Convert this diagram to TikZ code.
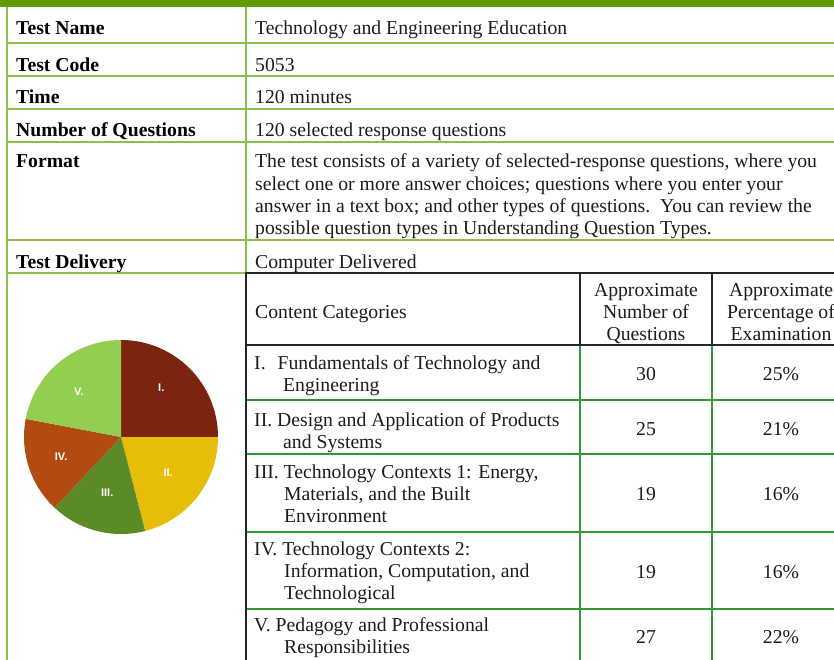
\documentclass[tikz,border=0pt]{standalone}
\usepackage{fontspec}
\setmainfont{Liberation Serif}
\newfontfamily\piesans{Liberation Sans}
\usetikzlibrary{positioning}

\definecolor{bargreen}{HTML}{5F9A00}
\definecolor{rulegreen}{HTML}{8CC04B}
\definecolor{gridgreen}{HTML}{2F9A35}
\definecolor{ink}{HTML}{1C1C1C}
\definecolor{catI}{HTML}{7B2410}
\definecolor{catII}{HTML}{E6BD09}
\definecolor{catIII}{HTML}{5A8B27}
\definecolor{catIV}{HTML}{B24A12}
\definecolor{catV}{HTML}{92CF51}

\begin{document}
\begin{tikzpicture}[x=1pt, y=-1pt,
    every node/.style={inner sep=0pt, text=ink, font=\fontsize{19.7}{22.3}\selectfont},
    head/.style={anchor=base west, text=black, font=\fontsize{19.7}{22.3}\selectfont\bfseries},
    cell/.style={anchor=base west, align=left},
    colhead/.style={anchor=base, align=center},
    num/.style={anchor=center},
    slice/.style={text=white, font=\piesans\bfseries\fontsize{11}{13}\selectfont},
    outer/.style={rulegreen, line width=2pt},
    grid/.style={gridgreen, line width=1.4pt},
    frame/.style={black!85, line width=1.6pt}]

  \useasboundingbox (0,0) rectangle (834,660);

  % top band and outer rules
  \fill[bargreen] (0,0) rectangle (834,7.5);
  \foreach \y in {42.7,76,109,141.7,240}
    \draw[outer] (7,\y) -- (834,\y);
  \draw[outer] (7,273) -- (246,273);
  \draw[outer] (7,7.5) -- (7,660);
  \draw[outer] (246,7.5) -- (246,273);

  % labels
  \node[head] (name)  at (16,35)    {Test Name};
  \node[head] (code)  at (16,71.5)  {Test Code};
  \node[head] (time)  at (16,104)   {Time};
  \node[head] (numq)  at (16,136.7) {Number of Questions};
  \node[head] (fmt)   at (16,168)   {Format};
  \node[head] (deliv) at (16,268)   {Test Delivery};

  % values (multi-line cells sit on their last baseline)
  \node[cell] (nameval)  at (255,35)    {Technology and Engineering Education};
  \node[cell] (codeval)  at (255,71.5)  {5053};
  \node[cell] (timeval)  at (255,104)   {120 minutes};
  \node[cell] (numqval)  at (255,136.7) {120 selected response questions};
  \node[cell] (fmtval)   at (255,234.9) {The test consists of a variety of selected-response questions, where you\\
    select one or more answer choices; questions where you enter your\\
    answer in a text box; and other types of questions.\ \ You can review the\\
    possible question types in Understanding Question Types.};
  \node[cell] (delivval) at (255,268)   {Computer Delivered};

  % content table
  \foreach \y in {400,454,532,609}
    \draw[grid] (246,\y) -- (834,\y);
  \foreach \x in {580,712}
    \draw[grid] (\x,345) -- (\x,660);
  \draw[frame] (834,273) -- (246,273) -- (246,660);
  \draw[frame] (246,345) -- (834,345);
  \foreach \x in {580,712}
    \draw[frame] (\x,273) -- (\x,345);

  \node[cell]    (cc)  at (255,318)   {Content Categories};
  \node[colhead] (anq) at (646,340.6) {Approximate\\Number of\\Questions};
  \node[colhead] (ape) at (781,340.6) {Approximate\\Percentage of\\Examination};

  \node[cell] (c1) at (254,391.3) {I.\hspace{12pt}Fundamentals of Technology and\\
    \hspace{29pt}Engineering};
  \node[cell] (c2) at (254,448.3) {II. Design and Application of Products\\
    \hspace{29pt}and Systems};
  \node[cell] (c3) at (254,522.6) {III. Technology Contexts 1: Energy,\\
    \hspace{30pt}Materials, and the Built\\
    \hspace{30pt}Environment};
  \node[cell] (c4) at (254,599.6) {IV. Technology Contexts 2:\\
    \hspace{30pt}Information, Computation, and\\
    \hspace{30pt}Technological};
  \node[cell] (c5) at (254,653.3) {V. Pedagogy and Professional\\
    \hspace{30pt}Responsibilities};

  \node[num] (n1) at (646,374) {30};  \node[num] (p1) at (781,374) {25\%};
  \node[num] (n2) at (646,429) {25};  \node[num] (p2) at (781,429) {21\%};
  \node[num] (n3) at (646,494) {19};  \node[num] (p3) at (781,494) {16\%};
  \node[num] (n4) at (646,572) {19};  \node[num] (p4) at (781,572) {16\%};
  \node[num] (n5) at (646,637) {27};  \node[num] (p5) at (781,637) {22\%};

  % pie
  \begin{scope}[shift={(121,437)}, yscale=-1]
    \coordinate (pie) at (0,0);
    \foreach \a/\b/\c/\t/\p [count=\i] in
      {90/0/catI/I./{51:64}, 0/-75.6/catII/II./{-37:59},
       -75.6/-133.2/catIII/III./{-104:57}, -133.2/-190.8/catIV/IV./{-162:63},
       -190.8/-270/catV/V./{133:62}}
    {
      \fill[\c] (pie) -- (\a:97) arc[start angle=\a, end angle=\b, radius=97] -- cycle;
      \node[slice] (s\i) at (\p) {\t};
    }
  \end{scope}
\end{tikzpicture}
\end{document}
